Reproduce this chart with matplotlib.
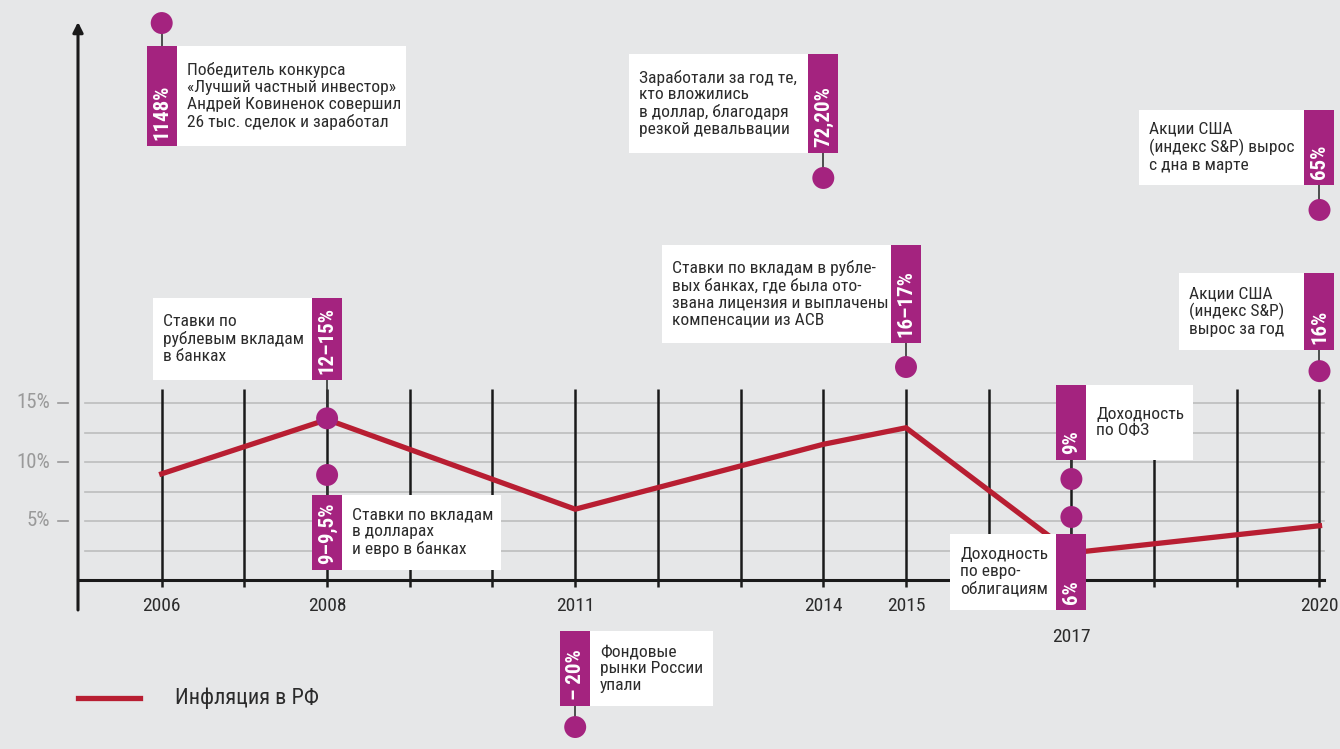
import matplotlib
matplotlib.use("Agg")
import matplotlib.pyplot as plt
from matplotlib import font_manager as fm
from matplotlib.patches import Rectangle, FancyArrowPatch

# inflation in Russia, %
years = [2006, 2008, 2011, 2014, 2015, 2017, 2020]
inflation = [9.0, 13.6, 6.0, 11.5, 12.9, 2.3, 4.6]

tick_years = list(range(2006, 2021))
label_years = [2006, 2008, 2011, 2014, 2015, 2017, 2020]
y_ticks = [5, 10, 15]
y_tick_labels = ['5%', '10%', '15%']

# annotations
ann_years = [2006, 2008, 2008, 2011, 2014, 2015, 2017, 2017, 2020, 2020]
ann_values = ['1148%', '12–15%', '9–9,5%', '– 20%', '72,20%', '16–17%', '9%', '6%', '65%', '16%']
ann_texts = [
    'Победитель конкурса\n«Лучший частный инвестор»\nАндрей Ковиненок совершил\n26 тыс. сделок и заработал',
    'Ставки по\nрублевым вкладам\nв банках',
    'Ставки по вкладам\nв долларах\nи евро в банках',
    'Фондовые\nрынки России\nупали',
    'Заработали за год те,\nкто вложились\nв доллар, благодаря\nрезкой девальвации',
    'Ставки по вкладам в рубле-\nвых банках, где была ото-\nзвана лицензия и выплачены\nкомпенсации из АСВ',
    'Доходность\nпо ОФЗ',
    'Доходность\nпо евро-\nоблигациям',
    'Акции США\n(индекс S&P) вырос\nс дна в марте',
    'Акции США\n(индекс S&P)\nвырос за год',
]
# layout: circle level, box top, box bottom (in axis % units), text side, text box width (px)
ann_circle = [47.2, 13.7, 8.9, -12.46, 34.07, 18.05, 8.56, 5.34, 31.36, 17.7]
ann_top = [45.25, 23.9, 7.2, -4.3, 44.6, 28.4, 16.5, 3.9, 39.8, 26.0]
ann_bottom = [36.8, 16.95, 0.85, -10.7, 36.2, 20.1, 10.2, -2.54, 33.5, 19.5]
ann_side = ['right', 'left', 'right', 'right', 'left', 'left', 'right', 'left', 'left', 'left']
ann_width = [229, 159, 159, 123, 179, 229, 107, 106, 165, 125]

BG = '#e6e7e8'
MAGENTA = '#a4237f'
RED = '#b81e32'
DARK = '#2b2b2b'

names = {f.name for f in fm.fontManager.ttflist}
font = 'Liberation Sans'
for cand in ['Roboto Condensed', 'Liberation Sans Narrow', 'Open Sans Condensed', 'Noto Sans Condensed']:
    if cand in names:
        font = cand
        break
plt.rcParams['font.family'] = [font, 'DejaVu Sans']

fig = plt.figure(figsize=(13.4, 7.49), dpi=100, facecolor=BG)
ax = fig.add_axes([0, 0, 1, 1])
ax.set_facecolor(BG)
ax.set_axis_off()

PX_X = 82.7   # px per year
PX_Y = 11.8   # px per percent
ax.set_xlim(2005 - 79 / PX_X, 2005 + 1261 / PX_X)
ax.set_ylim(-169 / PX_Y, 580 / PX_Y)


def px(n):
    return n / PX_X


def py(n):
    return n / PX_Y


# horizontal grid
for lev in [2.5, 5, 7.5, 10, 12.5, 15]:
    ax.plot([2005 + px(6), 2020 + px(5)], [lev, lev], color='#bdbdbd', lw=1.2, zorder=1)

# vertical grid
for yr in tick_years:
    ax.plot([yr, yr], [-py(7), 16.2], color='#1a1a1a', lw=1.8, zorder=2, solid_capstyle='butt')

# axes
ax.plot([2005 - px(1), 2020 + px(5)], [0, 0], color='#1a1a1a', lw=2.2, zorder=3)
ax.add_patch(FancyArrowPatch((2005 - px(1), -py(30)), (2005 - px(1), py(558)),
                             arrowstyle='-|>,head_length=6,head_width=3',
                             color='#1a1a1a', lw=2.2, zorder=3, shrinkA=0, shrinkB=0))

for v, lab in zip(y_ticks, y_tick_labels):
    ax.plot([2005 - px(21), 2005 - px(11)], [v, v], color='#9a9a9a', lw=1.2)
    ax.text(2005 - px(29), v, lab, ha='right', va='center', fontsize=15, color='#9a9a9a')

for yr in label_years:
    yy = -py(57) if yr == 2017 else -py(26)
    ax.text(yr, yy, str(yr), ha='center', va='center', fontsize=14, color=DARK)

# inflation line
ax.plot(years, inflation, color=RED, lw=3.8, zorder=4, solid_joinstyle='miter')

# annotations
for yr, val, txt, cy, top, bot, side, w in zip(ann_years, ann_values, ann_texts, ann_circle,
                                                ann_top, ann_bottom, ann_side, ann_width):
    # stem
    edge = top if cy > top else bot
    ax.plot([yr, yr], [cy, edge], color='#333333', lw=1.2, zorder=5)
    ax.add_patch(Rectangle((yr - px(15), bot), px(30), top - bot, facecolor=MAGENTA,
                           edgecolor='none', zorder=6))
    ax.text(yr, bot + py(6), val, rotation=90, ha='center', va='bottom', color='white',
            fontsize=15, fontweight='bold', zorder=7)
    if side == 'right':
        x0 = yr + px(15)
    else:
        x0 = yr - px(15) - px(w)
    ax.add_patch(Rectangle((x0, bot), px(w), top - bot, facecolor='white',
                           edgecolor='none', zorder=6))
    ax.text(x0 + px(10), (top + bot) / 2, txt, ha='left', va='center', color=DARK,
            fontsize=12.6, linespacing=1.15, zorder=7)

ax.scatter(ann_years, ann_circle, s=250, color=MAGENTA, edgecolors='none', zorder=8)

# legend
ax.plot([2005 - px(1), 2005 + px(61)], [-py(118), -py(118)], color=RED, lw=3.8)
ax.text(2005 + px(96), -py(118), 'Инфляция в РФ', ha='left', va='center', fontsize=16, color=DARK)

fig.savefig('out.png', dpi=100, facecolor=BG)
